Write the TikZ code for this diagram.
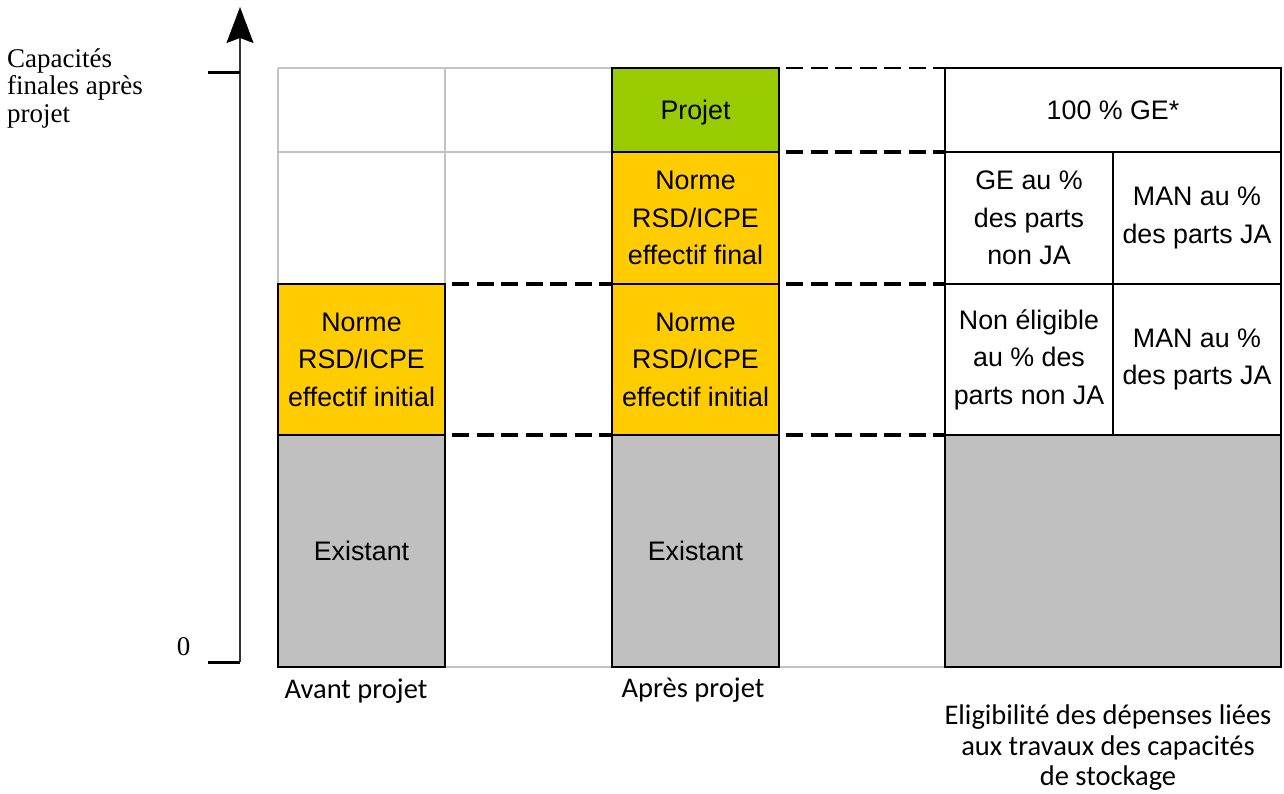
\documentclass[tikz,border=0pt]{standalone}
\usepackage{fontspec}
\setmainfont{Liberation Sans}
\newfontfamily\serifface{Liberation Serif}
\newfontfamily\calibface{Carlito}
\usetikzlibrary{arrows.meta}
\definecolor{boxgray}{HTML}{C0C0C0}
\definecolor{gridgray}{HTML}{C3C3C3}
\definecolor{boxorange}{HTML}{FFCC00}
\definecolor{boxgreen}{HTML}{99CC00}
\tikzset{
  cell/.style={draw=black, line width=2.8pt, inner sep=0pt, outer sep=0pt,
    align=center, font=\fontsize{26.8}{37.5}\selectfont},
  existbox/.style={cell, fill=boxgray},
  normbox/.style={cell, fill=boxorange},
  projbox/.style={cell, fill=boxgreen},
  eligbox/.style={cell, fill=white},
  gridline/.style={draw=gridgray, line width=2.2pt},
  levelline/.style={draw=black, line width=3.6pt, dash pattern=on 17pt off 7.5pt, dash phase=-7pt},
  toplevel/.style={draw=black, line width=2pt, dash pattern=on 17pt off 7.5pt, dash phase=-7pt},
  tickmark/.style={draw=black, line width=3pt},
  caption/.style={font=\calibface\fontsize{28.5}{30.5}\selectfont, align=center, inner sep=0pt},
}
\begin{document}
\begin{tikzpicture}[x=1pt, y=-1pt]
\useasboundingbox[fill=white] (0,0) rectangle (1284,794);

% light background grid of the first two columns
\draw[gridline] (278,68) -- (612,68);
\draw[gridline] (278,152) -- (612,152);
\draw[gridline] (278,68) -- (278,667);
\draw[gridline] (445,68) -- (445,667);
\draw[gridline] (445,667) -- (612,667);
\draw[gridline] (780,667) -- (945,667);

% before the project
\node[normbox, minimum width=167pt, minimum height=151pt] (avnorm) at (361.5,359.5)
  {Norme\\RSD/ICPE\\effectif initial};
\node[existbox, minimum width=167pt, minimum height=232pt] (avexist) at (361.5,551) {Existant};

% after the project
\node[projbox, minimum width=167pt, minimum height=84pt, text depth=0pt] (approj) at (695.5,110) {Projet};
\node[normbox, minimum width=167pt, minimum height=132pt] (apfinal) at (695.5,218)
  {Norme\\RSD/ICPE\\effectif final};
\node[normbox, minimum width=167pt, minimum height=151pt] (apinit) at (695.5,359.5)
  {Norme\\RSD/ICPE\\effectif initial};
\node[existbox, minimum width=167pt, minimum height=232pt] (apexist) at (695.5,551) {Existant};

% eligibility of the expenses
\node[eligbox, minimum width=336pt, minimum height=84pt] (ge) at (1113,110) {100 \% GE*};
\node[eligbox, minimum width=168pt, minimum height=132pt] (genja) at (1029,218)
  {GE au \%\\des parts\\non JA};
\node[eligbox, minimum width=168pt, minimum height=132pt] (manfin) at (1197,218)
  {MAN au \%\\des parts JA};
\node[eligbox, minimum width=168pt, minimum height=151pt] (nonel) at (1029,359.5)
  {Non éligible\\au \% des\\parts non JA};
\node[eligbox, minimum width=168pt, minimum height=151pt] (manini) at (1197,359.5)
  {MAN au \%\\des parts JA};
\node[existbox, minimum width=336pt, minimum height=232pt] (elexist) at (1113,551) {};

% level lines between the columns
\draw[toplevel] (approj.north east) -- (ge.north west);
\draw[levelline] (approj.south east) -- (ge.south west);
\draw[levelline] (avnorm.north east) -- (apinit.north west);
\draw[levelline] (apinit.north east) -- (nonel.north west);
\draw[levelline] (avnorm.south east) -- (apinit.south west);
\draw[levelline] (apinit.south east) -- (nonel.south west);

% vertical axis
\coordinate (axbot) at (240,662);
\coordinate (axtop) at (240,7);
\coordinate (tickhi) at (208,73);
\coordinate (tickhiend) at (240,73);
\coordinate (ticklo) at (208,662);
\draw[draw=black!80, line width=1.3pt,
  -{Stealth[length=36pt, width=27pt, inset=5pt, color=black, fill=black]}]
  (axbot) -- (axtop);
\draw[tickmark] (tickhi) -- (tickhiend);
\draw[tickmark] (ticklo) -- (axbot);

\node[font=\serifface\fontsize{27}{28}\selectfont, inner sep=0pt] (zero) at (183.5,647) {0};
\node[font=\serifface\fontsize{27}{27.5}\selectfont, align=left, anchor=west, inner sep=0pt]
  (axlabel) at (7,88) {Capacités\\finales après\\projet};

% column captions
\node[caption] (capav) at (356,691) {Avant projet};
\node[caption] (capap) at (693,690) {Après projet};
\node[caption] (capel) at (1108,748)
  {Eligibilité des dépenses liées\\aux travaux des capacités\\de stockage};
\end{tikzpicture}
\end{document}
